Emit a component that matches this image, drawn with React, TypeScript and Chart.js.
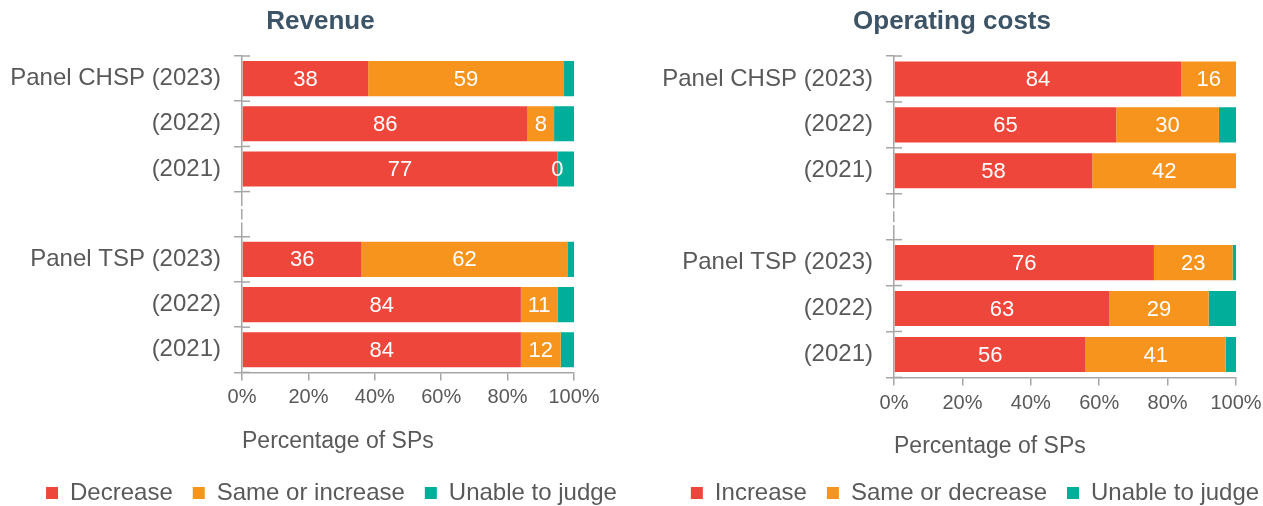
import React, { useEffect, useRef } from 'react';
import { Chart, registerables } from 'chart.js';

Chart.register(...registerables);
Chart.defaults.font.family = "'Liberation Sans', Arial, sans-serif";

// ---- Data ----
const categories = ['Panel CHSP (2023)', '(2022)', '(2021)', '', 'Panel TSP (2023)', '(2022)', '(2021)'];
const xTickValues = [0, 20, 40, 60, 80, 100];

const revenueSeries = ['Decrease', 'Same or increase', 'Unable to judge'];
const revenueDecrease = [38, 86, 95, null, 36, 84, 84];
const revenueSame = [59, 8, 0, null, 62, 11, 12];
const revenueUnable = [3, 6, 5, null, 2, 5, 4];
const revenueDecreaseLabels = ['38', '86', '77', '', '36', '84', '84'];
const revenueSameLabels = ['59', '8', '0', '', '62', '11', '12'];

const costsSeries = ['Increase', 'Same or decrease', 'Unable to judge'];
const costsIncrease = [84, 65, 58, null, 76, 63, 56];
const costsSame = [16, 30, 42, null, 23, 29, 41];
const costsUnable = [0, 5, 0, null, 1, 8, 3];
const costsIncreaseLabels = ['84', '65', '58', '', '76', '63', '56'];
const costsSameLabels = ['16', '30', '42', '', '23', '29', '41'];

// ---- Styles ----
const RED = '#EF463C';
const ORANGE = '#F7941E';
const TEAL = '#00AE9A';
const GRID = '#A6A6A6';
const TEXT = '#595959';
const TITLE = '#3D5467';
const CANVAS_H = 515;

type PanelProps = {
  left: number;
  width: number;
  title: string;
  series: string[];
  values: (number | null)[][];
  labels: string[][];
  yAxisWidth: number;
  rightPad: number;
  titleDx: number;
  legendDx: number;
  barPct: number;
  tickPad: number;
  axisTitlePad: { top: number; bottom: number };
};

function Panel(props: PanelProps) {
  const ref = useRef<HTMLCanvasElement | null>(null);
  useEffect(() => {
    if (!ref.current) return;
    const colors = [RED, ORANGE, TEAL];

    const innerTicks = {
      id: 'innerTicks',
      afterDraw(chart: any) {
        const y = chart.scales.y;
        const ctx = chart.ctx;
        const left = chart.chartArea.left;
        ctx.save();
        // axis breaks within the empty spacer category
        categories.forEach((c, i) => {
          if (c !== '') return;
          const t = y.getPixelForValue(i - 0.5);
          const b = y.getPixelForValue(i + 0.5);
          ctx.fillStyle = '#FFFFFF';
          [0.35, 0.65].forEach((f) => {
            const py = t + (b - t) * f;
            ctx.fillRect(left - 2, py - 1.5, 4, 3);
          });
        });
        ctx.strokeStyle = GRID;
        ctx.lineWidth = 1.5;
        for (let i = 0; i <= categories.length; i++) {
          const py = y.getPixelForValue(i - 0.5);
          ctx.beginPath();
          ctx.moveTo(left, py);
          ctx.lineTo(left + 8, py);
          ctx.stroke();
        }
        ctx.restore();
      },
    };

    const dataLabels = {
      id: 'dataLabels',
      afterDatasetsDraw(chart: any) {
        const ctx = chart.ctx;
        ctx.save();
        ctx.font = "22px 'Liberation Sans', Arial, sans-serif";
        ctx.fillStyle = '#FFFFFF';
        ctx.textAlign = 'center';
        ctx.textBaseline = 'middle';
        props.labels.forEach((set, di) => {
          const meta = chart.getDatasetMeta(di);
          meta.data.forEach((el: any, i: number) => {
            const t = set[i];
            if (!t) return;
            const p = el.getProps(['x', 'y', 'base'], true);
            ctx.fillText(t, (p.x + p.base) / 2, p.y + 1);
          });
        });
        ctx.restore();
      },
    };

    const shiftBlocks = {
      id: 'shiftBlocks',
      afterLayout(chart: any) {
        if (chart.titleBlock) {
          chart.titleBlock.left += props.titleDx;
          chart.titleBlock.right += props.titleDx;
        }
        if (chart.legend) {
          chart.legend.left += props.legendDx;
          chart.legend.right += props.legendDx;
        }
      },
    };

    const chart = new Chart(ref.current, {
      type: 'bar',
      data: {
        labels: categories,
        datasets: props.series.map((name, i) => ({
          label: name,
          data: props.values[i],
          backgroundColor: colors[i],
          borderWidth: 0,
        })),
      },
      options: {
        responsive: false,
        animation: false,
        indexAxis: 'y',
        layout: { padding: 0 },
        datasets: { bar: { categoryPercentage: 1, barPercentage: props.barPct } },
        scales: {
          x: {
            stacked: true,
            min: 0,
            max: 100,
            afterBuildTicks: (s: any) => {
              s.ticks = xTickValues.map((v) => ({ value: v }));
            },
            afterFit: (s: any) => {
              s.paddingRight = props.rightPad;
            },
            border: { color: GRID, width: 1.5 },
            grid: { drawOnChartArea: false, tickLength: 8, color: GRID, lineWidth: 1.5 },
            ticks: {
              padding: props.tickPad,
              font: { size: 20 },
              color: TEXT,
              callback: (v: any) => v + '%',
            },
            title: {
              display: true,
              text: 'Percentage of SPs',
              align: 'start',
              font: { size: 23 },
              color: TEXT,
              padding: props.axisTitlePad,
            },
          },
          y: {
            stacked: true,
            afterFit: (s: any) => {
              s.width = props.yAxisWidth;
            },
            border: { color: GRID, width: 1.5 },
            grid: { offset: true, drawOnChartArea: false, tickLength: 8, color: GRID, lineWidth: 1.5 },
            ticks: { padding: 13, font: { size: 24 }, color: TEXT, autoSkip: false },
          },
        },
        plugins: {
          title: {
            display: true,
            text: props.title,
            font: { size: 26, weight: 'bold' },
            color: TITLE,
            padding: { top: 6, bottom: 18.8 },
          },
          legend: {
            position: 'bottom',
            labels: {
              boxWidth: 12,
              boxHeight: 12,
              padding: 20,
              font: { size: 24 },
              color: TEXT,
            },
          },
          tooltip: { enabled: false },
        },
      } as any,
      plugins: [innerTicks, dataLabels, shiftBlocks],
    });
    return () => chart.destroy();
  }, []);

  return (
    <canvas
      ref={ref}
      width={props.width}
      height={CANVAS_H}
      style={{ position: 'absolute', left: props.left, top: 0, width: props.width, height: CANVAS_H }}
    />
  );
}

export default function App() {
  return (
    <div
      style={{
        position: 'absolute',
        left: 0,
        top: 0,
        width: 1263,
        height: 506,
        overflow: 'hidden',
        background: '#FFFFFF',
      }}
    >
      <Panel
        left={0}
        width={631}
        title="Revenue"
        series={revenueSeries}
        values={[revenueDecrease, revenueSame, revenueUnable]}
        labels={[revenueDecreaseLabels, revenueSameLabels]}
        yAxisWidth={242}
        rightPad={57}
        titleDx={5}
        legendDx={16}
        barPct={0.776}
        tickPad={5}
        axisTitlePad={{ top: 13, bottom: 6 }}
      />
      <Panel
        left={631}
        width={632}
        title="Operating costs"
        series={costsSeries}
        values={[costsIncrease, costsSame, costsUnable]}
        labels={[costsIncreaseLabels, costsSameLabels]}
        yAxisWidth={263}
        rightPad={27}
        titleDx={5}
        legendDx={28}
        barPct={0.763}
        tickPad={6}
        axisTitlePad={{ top: 11, bottom: 1 }}
      />
    </div>
  );
}
